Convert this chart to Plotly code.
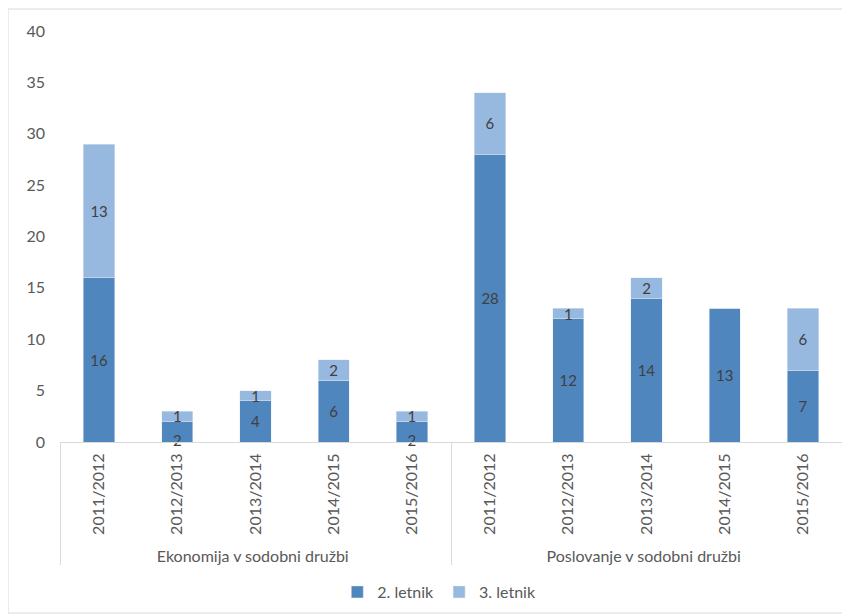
import plotly.graph_objects as go

groups = ["Ekonomija v sodobni družbi"] * 5 + ["Poslovanje v sodobni družbi"] * 5
years = ["2011/2012", "2012/2013", "2013/2014", "2014/2015", "2015/2016"] * 2
letnik2 = [16, 2, 4, 6, 2, 28, 12, 14, 13, 7]
letnik3 = [13, 1, 1, 2, 1, 6, 1, 2, 0, 6]

c2 = "#4F86BE"
c3 = "#97B9E0"
txt = "#404040"
font_family = "Lato, Open Sans, sans-serif"

# small bottom segments: label placed at the baseline (as in the reference)
small = [v <= 2 for v in letnik2]

fig = go.Figure()
fig.add_trace(go.Bar(
    x=[groups, years], y=letnik2, name="2. letnik", marker_color=c2,
    text=[str(v) if (v and not s) else "" for v, s in zip(letnik2, small)],
    textposition="inside", textangle=0,
    insidetextanchor="middle", textfont=dict(color=txt, size=15, family=font_family),
))
fig.add_trace(go.Bar(
    x=[groups, years], y=letnik3, name="3. letnik", marker_color=c3,
    text=[str(v) if v else "" for v in letnik3], textposition="inside", textangle=0,
    insidetextanchor="middle", textfont=dict(color=txt, size=15, family=font_family),
))
sx_g = [g for g, s in zip(groups, small) if s]
sx_y = [y for y, s in zip(years, small) if s]
sv = [v for v, s in zip(letnik2, small) if s]
fig.add_trace(go.Scatter(
    x=[sx_g, sx_y], y=[0 * v for v in sv], mode="text", text=[str(v) for v in sv],
    textposition="middle center", textfont=dict(color=txt, size=15, family=font_family),
    showlegend=False, hoverinfo="skip", cliponaxis=False,
))

fig.update_layout(
    barmode="stack",
    bargap=0.6,
    width=850, height=614,
    paper_bgcolor="white", plot_bgcolor="white",
    margin=dict(l=52, r=16, t=23, b=180, autoexpand=False),
    font=dict(family=font_family, size=16, color="#595959"),
    uniformtext=dict(minsize=15, mode="show"),
    legend=dict(orientation="h", x=0.485, xanchor="center", y=-0.365, yanchor="middle",
                traceorder="normal", font=dict(size=16, color="#595959"), itemwidth=30),
    showlegend=True,
)
fig.update_yaxes(range=[0, 40], dtick=5, showgrid=False, zeroline=False, showline=False,
                 ticks="", automargin=False, ticklabelstandoff=14,
                 tickfont=dict(size=16, color="#595959"))
fig.update_xaxes(showline=True, linecolor="#D9D9D9", linewidth=1, showgrid=False,
                 tickangle=-90, showdividers=True, dividercolor="#D9D9D9", dividerwidth=1,
                 automargin=False, ticklabelstandoff=4,
                 tickfont=dict(size=16, color="#595959"), ticks="")
fig.add_shape(type="rect", xref="paper", yref="paper",
              x0=-52/782, x1=1.0 + 6/782, y0=(442-613)/411, y1=1 + 22/411,
              line=dict(color="#D9D9D9", width=1), fillcolor="rgba(0,0,0,0)")
fig.write_html("out.html")
